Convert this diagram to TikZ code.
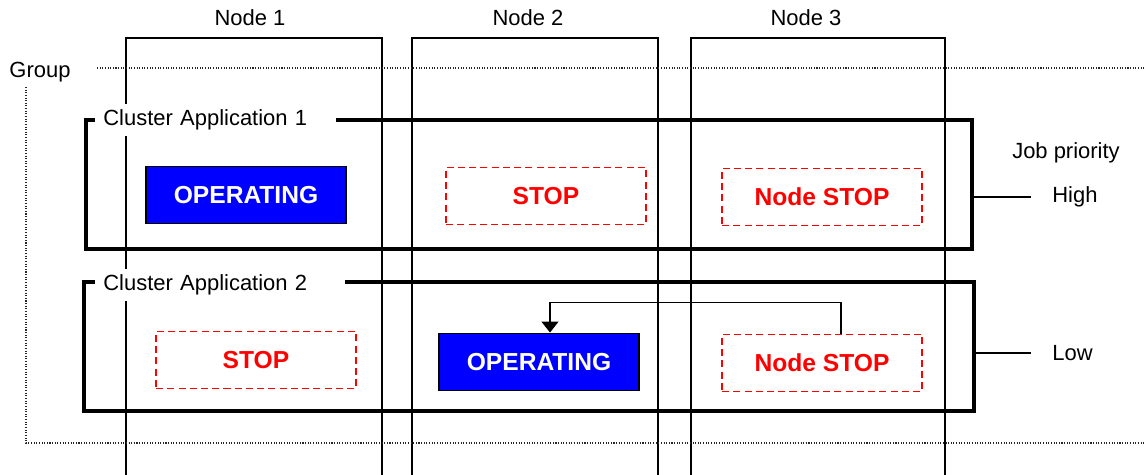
\documentclass[tikz,border=0pt]{standalone}
\usepackage{fontspec}
\setmainfont{Liberation Sans}
\usetikzlibrary{arrows.meta}
\definecolor{opblue}{RGB}{0,0,255}
\definecolor{stopred}{RGB}{255,0,0}
\tikzset{
  colline/.style={line width=0.8pt, black},
  groupline/.style={line width=0.7pt, dash pattern=on 0.6pt off 0.9pt, black!85},
  appbox/.style={draw, line width=1.9pt, minimum height=2.58cm},
  lbl/.style={font=\fontsize{12.5}{15}\selectfont},
  applabel/.style={lbl, fill=white, anchor=west, text width=4.5cm, align=left, inner xsep=0.16cm, inner ysep=0.12cm},
  runbox/.style={draw=black, line width=0.8pt, fill=opblue, text=white, minimum width=4cm, minimum height=1.15cm, font=\bfseries\fontsize{14}{17}\selectfont},
  stopbox/.style={draw=stopred, line width=0.75pt, dash pattern=on 4pt off 2.4pt, text=stopred, minimum width=4cm, minimum height=1.15cm, font=\bfseries\fontsize{14}{17}\selectfont},
  moveline/.style={line width=0.8pt, -{Triangle[width=0.34cm,length=0.22cm]}},
}
\begin{document}
\begin{tikzpicture}[x=0.02cm, y=-0.02cm]
  \useasboundingbox (0,0) rectangle (1144,475);
  % node columns
  \foreach \xl/\xr/\xt [count=\n] in {126/382/250, 412/658/528, 691/945/806}{%
    \draw[colline] (\xl,475) |- (\xr,38) -- (\xr,475);
    \node[lbl] (col\n) at (\xt,18) {Node \n};
  }
  % group
  \node[lbl] (grp) at (40,72) {Group};
  \draw[groupline] (97,68) -- (1144,68);
  \draw[groupline] (26,87) |- (1144,443);
  % cluster applications
  \node[appbox, minimum width=17.72cm] (app1) at (529,184.5) {};
  \node[appbox, minimum width=17.8cm] (app2) at (529,346.5) {};
  \node[applabel] (app1lbl) at (95,120) {Cluster Application 1};
  \node[applabel, text width=4.68cm] (app2lbl) at (95,285) {Cluster Application 2};
  % states
  \node[runbox] (op1) at (246,195) {OPERATING};
  \node[stopbox] (stop1) at (546,196) {STOP};
  \node[stopbox] (ns1) at (822,197) {Node STOP};
  \node[stopbox] (stop2) at (256,360) {STOP};
  \node[runbox] (op2) at (539,362) {OPERATING};
  \node[stopbox] (ns2) at (822,363) {Node STOP};
  \draw[moveline] ([xshift=0.38cm]ns2.north) |- ([xshift=0.22cm,yshift=0.6cm]op2.north) -- ([xshift=0.22cm]op2.north);
  % job priority
  \node[lbl] (prio) at (1066,153) {Job priority};
  \node[lbl, anchor=west, inner xsep=0.42cm] (high) at (1031,197) {High};
  \node[lbl, anchor=west, inner xsep=0.42cm] (low) at (1031,353) {Low};
  \draw[colline] (app1.east |- high.west) -- (high.west);
  \draw[colline] (app2.east |- low.west) -- (low.west);
\end{tikzpicture}
\end{document}
